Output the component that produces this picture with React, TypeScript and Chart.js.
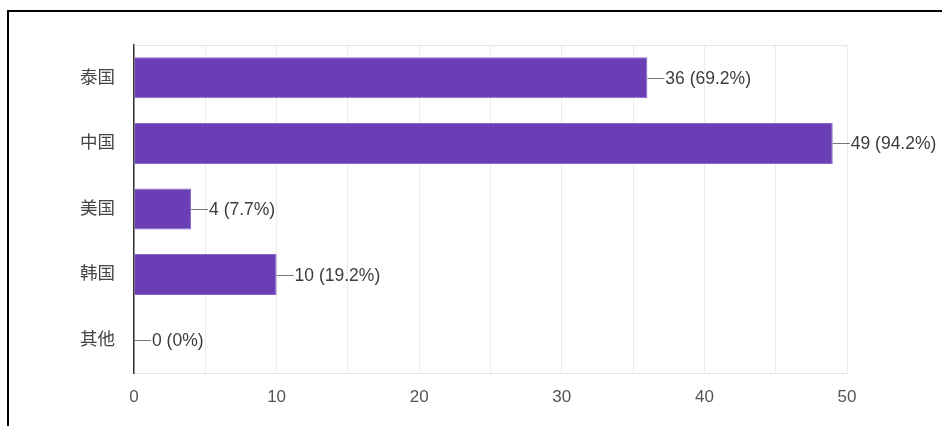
import React, { useEffect, useRef } from "react";
import { Chart, registerables } from "chart.js";

Chart.register(...registerables);

const categories = ["泰国", "中国", "美国", "韩国", "其他"];
const counts = [36, 49, 4, 10, 0];
const percents = ["69.2%", "94.2%", "7.7%", "19.2%", "0%"];
const xTicks = [0, 10, 20, 30, 40, 50];

const FONT = "'Liberation Sans', Arial, 'Noto Sans CJK SC', sans-serif";

const frameBox = {
  id: "frameBox",
  beforeDatasetsDraw(chart: any) {
    const { ctx, chartArea } = chart;
    ctx.save();
    ctx.strokeStyle = "#e6e6e6";
    ctx.lineWidth = 1;
    ctx.beginPath();
    ctx.moveTo(chartArea.left, chartArea.top + 0.5);
    ctx.lineTo(chartArea.right, chartArea.top + 0.5);
    ctx.stroke();
    ctx.restore();
  },
};

const valueLabels = {
  id: "valueLabels",
  afterDatasetsDraw(chart: any) {
    const { ctx } = chart;
    const meta = chart.getDatasetMeta(0);
    ctx.save();
    meta.data.forEach((el: any, i: number) => {
      const x = el.x;
      const y = Math.round(el.y) + 0.5;
      ctx.strokeStyle = "#777";
      ctx.lineWidth = 1;
      ctx.beginPath();
      ctx.moveTo(x, y);
      ctx.lineTo(x + 17, y);
      ctx.stroke();
      ctx.fillStyle = "#3c3c3c";
      ctx.font = `17.5px ${FONT}`;
      ctx.textAlign = "left";
      ctx.textBaseline = "middle";
      ctx.fillText(`${counts[i]} (${percents[i]})`, x + 18, y + 1);
    });
    ctx.restore();
  },
};

export default function App() {
  const ref = useRef<HTMLCanvasElement>(null);
  useEffect(() => {
    document.body.style.margin = "0";
    const chart = new Chart(ref.current!, {
      type: "bar",
      data: {
        labels: categories,
        datasets: [
          {
            data: counts,
            backgroundColor: "#6a3fb6",
            borderColor: "#8c66cc",
            borderWidth: 1,
            barPercentage: 1,
            categoryPercentage: 0.625,
          },
        ],
      },
      options: {
        indexAxis: "y",
        animation: false,
        responsive: false,
        maintainAspectRatio: false,
        layout: { padding: { top: 45, right: 95, left: 0, bottom: 0 } },
        plugins: { legend: { display: false }, tooltip: { enabled: false } },
        scales: {
          x: {
            min: 0,
            max: 50,
            afterBuildTicks(scale: any) {
              scale.ticks = [0, 5, 10, 15, 20, 25, 30, 35, 40, 45, 50].map((v) => ({ value: v }));
            },
            afterFit(scale: any) {
              scale.height = 53;
            },
            grid: { color: "#ebebeb", drawTicks: false },
            border: { display: true, color: "#e6e6e6" },
            ticks: {
              padding: 14,
              color: "#555",
              font: { size: 17, family: FONT },
              callback: (v: any) => (xTicks.includes(Number(v)) ? String(v) : ""),
            },
          },
          y: {
            afterFit(scale: any) {
              scale.width = 134;
            },
            grid: { display: false, drawTicks: false },
            border: { display: true, color: "#333", width: 1.5 },
            ticks: {
              padding: 19,
              color: "#444",
              font: { size: 17.5, family: FONT },
            },
          },
        },
      },
      plugins: [frameBox, valueLabels],
    } as any);
    return () => chart.destroy();
  }, []);
  return (
    <div style={{ position: "relative", width: 942, height: 426, background: "#fff", overflow: "hidden" }}>
      <canvas ref={ref} width={942} height={426} style={{ position: "absolute", left: 0, top: 0 }} />
      <div
        style={{
          position: "absolute",
          left: 7,
          top: 10,
          width: 960,
          height: 440,
          borderTop: "2px solid #000",
          borderLeft: "2px solid #000",
          pointerEvents: "none",
        }}
      />
    </div>
  );
}
